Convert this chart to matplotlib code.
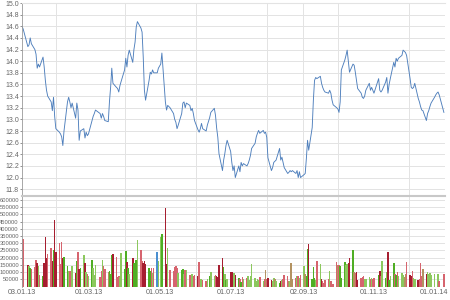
import numpy as np
import pandas as pd
import matplotlib
matplotlib.use("Agg")
import matplotlib.pyplot as plt
import matplotlib.dates as mdates
import matplotlib.transforms as mtransforms

plt.rcParams['font.family'] = ['Liberation Sans', 'DejaVu Sans']

# торговые дни 2013 года
holidays = ['2013-01-07', '2013-03-08', '2013-05-01', '2013-05-09', '2013-06-12', '2013-11-04']
days = pd.bdate_range('2013-01-03', '2013-12-31')
days = days[~days.isin(pd.to_datetime(holidays))]

price_jan = [14.60, 14.55, 14.25, 14.28, 14.40, 14.30, 14.20, 14.12, 13.88, 13.95,
             13.90, 14.07, 13.90, 13.67, 13.50, 13.40, 13.30, 13.15, 13.38, 13.05]
price_feb = [12.84, 12.78, 12.75, 12.70, 12.55, 12.80, 13.30, 13.38, 13.30, 13.20,
             13.28, 13.02, 13.28, 13.16, 12.64, 12.80, 12.84, 12.68, 12.78, 12.72]
price_mar = [12.75, 12.98, 13.05, 13.10, 13.16, 13.10, 13.02, 13.10, 13.05, 12.98,
             12.96, 13.30, 13.55, 13.88, 13.62, 13.55, 13.53, 13.47, 13.58, 13.65]
price_apr = [13.85, 14.05, 13.90, 14.10, 14.19, 13.98, 14.20, 14.33, 14.59, 14.68, 14.57,
             14.50, 14.07, 13.50, 13.33, 13.67, 13.81, 13.78, 13.85, 13.80, 13.80, 13.88]
price_may = [13.95, 14.14, 13.30, 13.16, 13.24, 13.20, 13.10, 13.00, 12.95, 12.84, 12.90,
             13.10, 13.28, 13.30, 13.20, 13.28, 13.24, 13.15, 13.19, 13.10, 12.98]
price_jun = [12.82, 12.78, 12.84, 12.93, 12.84, 12.80, 12.90, 13.03, 13.12, 13.19,
             13.07, 12.85, 12.69, 12.41, 12.12, 12.30, 12.41, 12.55, 12.64]
price_jul = [12.45, 12.26, 12.12, 12.20, 12.00, 12.20, 12.10, 12.26, 12.20, 12.24, 12.20, 12.24,
             12.30, 12.38, 12.50, 12.59, 12.70, 12.76, 12.81, 12.76, 12.81, 12.76, 12.78]
price_aug = [12.69, 12.34, 12.12, 12.17, 12.26, 12.28, 12.30, 12.50, 12.30, 12.35, 12.26,
             12.17, 12.07, 12.09, 12.12, 12.10, 12.12, 12.07, 12.12, 12.00, 12.10, 12.00]
price_sep = [12.05, 12.07, 12.33, 12.64, 12.47, 12.86, 13.33, 13.67, 13.72, 13.70, 13.74,
             13.62, 13.55, 13.50, 13.47, 13.45, 13.50, 13.45, 13.33, 13.25, 13.20]
price_oct = [13.18, 13.12, 13.30, 13.85, 14.02, 14.10, 14.19, 14.00, 13.81, 13.95, 13.93, 13.81,
             13.67, 13.53, 13.45, 13.38, 13.36, 13.40, 13.50, 13.62, 13.50, 13.55, 13.50]
price_nov = [13.45, 13.70, 13.50, 13.47, 13.50, 13.64, 13.72, 13.45, 13.60, 13.70,
             13.98, 13.90, 14.05, 14.00, 14.05, 14.10, 14.19, 14.17, 14.15, 14.10]
price_dec = [13.70, 13.55, 13.53, 13.55, 13.62, 13.36, 13.30, 13.22, 13.16, 13.15, 12.98,
             13.10, 13.15, 13.22, 13.28, 13.38, 13.42, 13.45, 13.47, 13.42, 13.20, 13.12]

vol_jan = [175000, 330000, 150000, 140000, 130000, 120000, 135000, 185000, 165000, 140000,
           80000, 70000, 165000, 345000, 195000, 225000, 270000, 175000, 250000, 460000]
vol_feb = [240000, 300000, 155000, 305000, 200000, 205000, 140000, 105000, 105000, 110000,
           140000, 95000, 175000, 240000, 120000, 130000, 215000, 165000, 100000, 90000]
vol_mar = [75000, 185000, 130000, 80000, 150000, 65000, 110000, 185000, 140000, 120000,
           100000, 110000, 85000, 220000, 225000, 205000, 65000, 70000, 65000, 235000]
vol_apr = [120000, 245000, 170000, 125000, 90000, 200000, 160000, 115000, 185000, 325000, 255000,
           175000, 165000, 180000, 155000, 125000, 110000, 130000, 95000, 125000, 240000, 176000]
vol_may = [342000, 365000, 543000, 155000, 267000, 115000, 110000, 137000, 140000, 125000, 95000,
           115000, 118000, 90000, 115000, 112000, 80000, 70000, 85000, 75000, 80000]
vol_jun = [70000, 171000, 55000, 50000, 45000, 40000, 55000, 75000, 100000, 70000,
           80000, 75000, 65000, 150000, 195000, 137000, 90000, 45000, 50000]
vol_jul = [103000, 100000, 65000, 92000, 80000, 60000, 55000, 30000, 65000, 55000, 60000, 70000,
           45000, 75000, 155000, 60000, 40000, 55000, 45000, 65000, 40000, 50000, 115000]
vol_aug = [50000, 60000, 45000, 35000, 60000, 50000, 40000, 25000, 40000, 45000, 55000,
           80000, 75000, 40000, 35000, 165000, 50000, 60000, 75000, 70000, 60000, 80000]
vol_sep = [144000, 90000, 70000, 262000, 293000, 50000, 132000, 60000, 45000, 178000, 155000,
           50000, 35000, 25000, 45000, 50000, 110000, 40000, 20000, 15000, 167000]
vol_oct = [150000, 150000, 145000, 60000, 167000, 150000, 155000, 160000, 200000, 250000, 100000, 95000,
           100000, 45000, 60000, 65000, 70000, 50000, 55000, 65000, 55000, 60000, 50000]
vol_nov = [60000, 80000, 110000, 75000, 178000, 60000, 100000, 240000, 45000, 70000,
           160000, 90000, 80000, 100000, 75000, 95000, 80000, 65000, 85000, 170000]
vol_dec = [80000, 70000, 105000, 60000, 50000, 45000, 55000, 160000, 70000, 120000, 85000,
           100000, 90000, 95000, 80000, 85000, 0, 0, 85000, 40000, 0, 85000]

tick_dates = ['2013-01-03', '2013-03-01', '2013-05-01', '2013-07-01', '2013-09-02', '2013-11-01', '2014-01-01']
tick_labels = ['03.01.13', '01.03.13', '01.05.13', '01.07.13', '02.09.13', '01.11.13', '01.01.14']

price = np.array(price_jan + price_feb + price_mar + price_apr + price_may + price_jun +
                 price_jul + price_aug + price_sep + price_oct + price_nov + price_dec)
volume = np.array(vol_jan + vol_feb + vol_mar + vol_apr + vol_may + vol_jun +
                  vol_jul + vol_aug + vol_sep + vol_oct + vol_nov + vol_dec)

# цвет столбцов объема по изменению цены
chg = np.diff(price, prepend=price[0] - 0.01)
colors = []
for c in chg:
    if c == 0:
        colors.append('#4a8fd0')
    elif c >= 0.12:
        colors.append('#4fae24')
    elif c > 0.02:
        colors.append('#8cc85e')
    elif c <= -0.12:
        colors.append('#a61e30')
    elif c < -0.02:
        colors.append('#d6646e')
    else:
        colors.append('#b39260')

fig = plt.figure(figsize=(4.5, 3), dpi=100)
ax1 = fig.add_axes([0.049, 0.35, 0.94, 0.64])
ax2 = fig.add_axes([0.049, 0.045, 0.94, 0.303], sharex=ax1)

grid_c = '#e3e3e3'
txt_c = '#666666'

ax1.plot(days, price, color='#4e7fbc', lw=0.65)
ax1.set_ylim(11.7, 15.0)
ax1.set_yticks(np.arange(11.8, 15.01, 0.2))
ax1.yaxis.set_major_formatter(plt.FormatStrFormatter('%.1f'))

ax2.bar(days, volume, width=1.3, color=colors, linewidth=0)
ax2.set_ylim(0, 630000)
ax2.set_yticks(np.arange(50000, 600001, 50000))
ax2.yaxis.set_major_formatter(plt.FormatStrFormatter('%d'))

ax1.set_xlim(pd.Timestamp('2013-01-03'), pd.Timestamp('2014-01-01'))
ax2.set_xticks(pd.to_datetime(tick_dates))
ax2.set_xticklabels(tick_labels)
ax2.xaxis.set_minor_locator(mdates.MonthLocator())

for ax in (ax1, ax2):
    ax.grid(True, axis='y', color=grid_c, lw=0.7)
    ax.grid(True, axis='x', which='minor', color=grid_c, lw=0.7)
    ax.set_axisbelow(True)
    ax.tick_params(axis='y', colors=txt_c, length=1.5, width=0.5, pad=0.8)
    ax.tick_params(axis='x', which='both', labelsize=5.2, colors=txt_c, length=0, pad=2)
    for s in ('right', 'bottom', 'top'):
        ax.spines[s].set_visible(False)
    ax.spines['left'].set_color('#999999')
    ax.spines['left'].set_linewidth(0.6)

ax1.tick_params(axis='y', labelsize=5)
ax2.tick_params(axis='y', labelsize=4.2)
ax1.tick_params(axis='x', labelbottom=False)
ax1.spines['top'].set_visible(True)
ax1.spines['top'].set_color(grid_c)
ax2.spines['top'].set_visible(True)
ax2.spines['top'].set_color('#c8c8c8')
ax2.spines['top'].set_linewidth(1.5)

last = ax2.get_xticklabels()[-1]
last.set_transform(last.get_transform() + mtransforms.ScaledTranslation(-11 / 100, 0, fig.dpi_scale_trans))

fig.savefig('out.png', dpi=100)
